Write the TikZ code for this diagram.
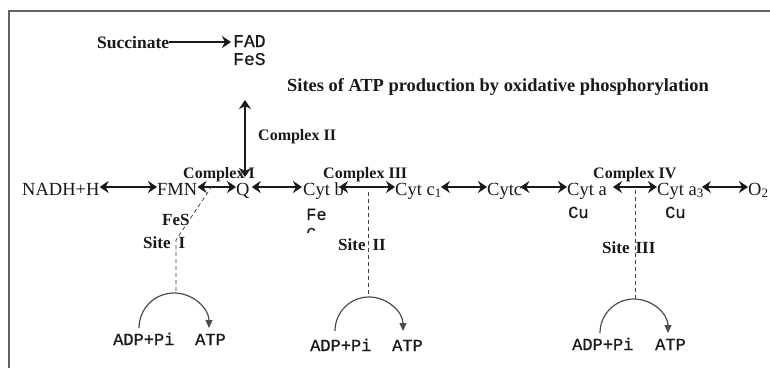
\documentclass[tikz,border=0pt]{standalone}
\usepackage{fontspec}
\setmainfont{Liberation Serif}
\newfontfamily\cour[FakeBold=0.6]{Liberation Mono}
\usetikzlibrary{arrows.meta}
\tikzset{
  every node/.style={inner sep=0pt, anchor=base west, text=black!90},
  rowtxt/.style={font=\fontsize{18.5}{20}\selectfont, text height=16pt, text depth=0pt},
  boldlbl/.style={font=\fontsize{16}{18}\selectfont\bfseries},
  bigbold/.style={font=\fontsize{17.5}{19}\selectfont\bfseries},
  sitelbl/.style={font=\fontsize{17}{19}\selectfont\bfseries},
  mono/.style={font=\fontsize{17}{19}\selectfont\cour},
  frameline/.style={line width=2pt, draw=black!62},
  tipk/.tip={Stealth[length=9pt,width=12pt,inset=3pt]},
  dbl/.style={tipk-tipk, line width=1.4pt, draw=black!90},
  sgl/.style={-tipk, line width=1.4pt, draw=black!90},
  sitedash/.style={dashed, dash pattern=on 4pt off 3pt, line width=0.8pt, draw=black!75},
  cyclearrow/.style={-{Triangle[length=8pt,width=7pt]}, line width=1.2pt, draw=black!70}
}
\begin{document}
\begin{tikzpicture}[x=1pt,y=1pt]
\useasboundingbox (0,0) rectangle (770,368);
\fill[white] (0,0) rectangle (770,368);
\draw[frameline] (9,0) -- (9,357) -- (770,357);

% top part
\node[bigbold] (succ) at (97,320) {Succinate};
\node[mono, font=\fontsize{18}{20}\selectfont\cour] (fad) at (233,321) {FAD};
\node[mono, font=\fontsize{18}{20}\selectfont\cour] (fes1) at (233,303) {FeS};
\draw[sgl, shorten >=2pt] (succ.east) -- (succ.east -| fad.west);
\node[font=\fontsize{18.4}{20}\selectfont\bfseries] (title) at (287,277) {Sites of ATP production by oxidative phosphorylation};

\coordinate (c2top) at (245,268);
\coordinate (c2bot) at (245,191);
\draw[dbl] (c2top) -- (c2bot);
\node[boldlbl] (cx2) at (258,228) {Complex II};

% complex labels
\node[boldlbl] (cx1) at (183,190) {Complex I};
\node[boldlbl] (cx3) at (323,190) {Complex III};
\node[boldlbl] (cx4) at (593,190) {Complex IV};

% main row
\node[rowtxt] (nadh) at (22,173) {NADH+H};
\node[rowtxt] (fmn) at (157,173) {FMN};
\node[rowtxt] (q) at (236,173) {Q};
\node[rowtxt] (cytb) at (303,173) {Cyt b};
\node[rowtxt] (cytc1) at (395,173) {Cyt c\textsubscript{1}};
\node[rowtxt] (cytc) at (487,173) {Cytc};
\node[rowtxt] (cyta) at (567,173) {Cyt a};
\node[rowtxt] (cyta3) at (657,173) {Cyt a\textsubscript{3}};
\node[rowtxt] (o2) at (748,173) {O\textsubscript{2}};

\draw[dbl] (nadh.east) -- (fmn.west);
\draw[dbl] (fmn.east) -- (q.west);
\draw[dbl, shorten >=1pt, shorten <=2pt] (q.east) -- (cytb.west);
\draw[dbl, shorten <=-5pt] (cytb.east) -- (cytc1.west);
\draw[dbl, shorten <=-1pt] (cytc1.east) -- (cytc.west);
\draw[dbl, shorten <=-2pt] (cytc.east) -- (cyta.west);
\draw[dbl, shorten <=6pt] (cyta.east) -- (cyta3.west);
\draw[dbl, shorten <=-2pt] (cyta3.east) -- (o2.west);

% sub labels
\node[sitelbl] (fes2) at (162,143) {FeS};
\node[mono] (fe) at (306,148) {Fe};
\begin{scope}
\clip (300,136) rectangle (330,142);
\node[mono] (fec) at (306,131) {c};
\end{scope}
\node[mono] (cu1) at (568,150) {Cu};
\node[mono] (cu2) at (665,150) {Cu};

\node[sitelbl] (site1) at (143,120) {Site\hspace{8pt}I};
\node[sitelbl] (site2) at (338,118) {Site\hspace{7pt}II};
\node[sitelbl] (site3) at (602,115) {Site\hspace{6pt}III};

% dashed site lines
\coordinate (s1a) at (212,182);
\coordinate (s1b) at (176,128);
\coordinate (s1c) at (176,74);
\draw[sitedash] (s1a) -- (s1b) -- (s1c);
\coordinate (s2a) at (368,176);
\coordinate (s2b) at (368,71);
\draw[sitedash] (s2a) -- (s2b);
\coordinate (s3a) at (635,178);
\coordinate (s3b) at (635,69);
\draw[sitedash] (s3a) -- (s3b);

% ATP cycles
\coordinate (a1) at (139,40);
\draw[cyclearrow] (a1) arc[start angle=180, end angle=0, radius=35pt];
\node[mono] (adp1) at (113,23) {ADP+Pi};
\node[mono] (atp1) at (195,23) {ATP};

\coordinate (a2) at (335,37);
\draw[cyclearrow] (a2) arc[start angle=180, end angle=0, radius=34pt];
\node[mono] (adp2) at (310,17) {ADP+Pi};
\node[mono] (atp2) at (392,17) {ATP};

\coordinate (a3) at (600,35);
\draw[cyclearrow] (a3) arc[start angle=180, end angle=0, radius=34pt];
\node[mono] (adp3) at (572,18) {ADP+Pi};
\node[mono] (atp3) at (655,18) {ATP};
\end{tikzpicture}
\end{document}
